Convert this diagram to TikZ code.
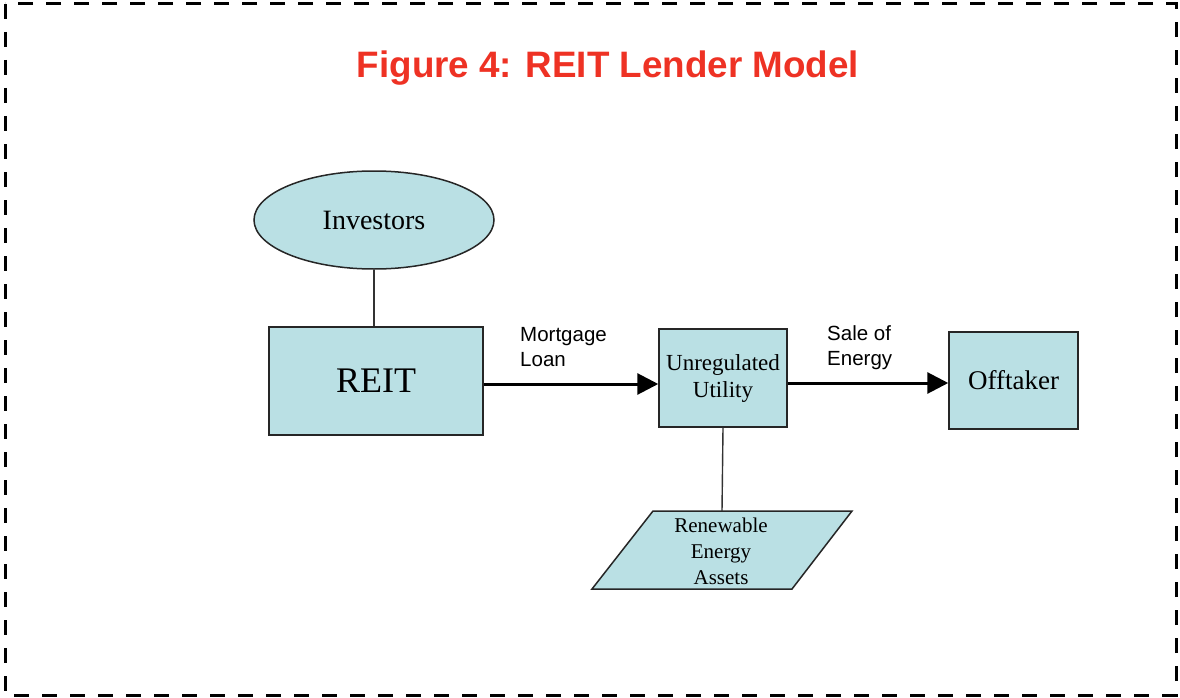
\documentclass[tikz,border=0pt]{standalone}
\usepackage{fontspec}
\setmainfont{Liberation Serif}
\newfontfamily\arialf{Liberation Sans}
\usetikzlibrary{arrows.meta,shapes.geometric}
\definecolor{boxfill}{RGB}{186,224,228}
\definecolor{titlered}{RGB}{238,50,36}
\tikzset{
  shapebox/.style={draw=black!85, line width=1.5pt, fill=boxfill, inner sep=0pt, align=center},
  flowarrow/.style={line width=3pt, -{Triangle[length=21pt,width=21pt]}},
  linkline/.style={line width=1.4pt, draw=black!80},
  lbl/.style={font=\arialf\fontsize{20.5}{25}\selectfont, align=left, anchor=north west, inner sep=0pt},
}
\begin{document}
\begin{tikzpicture}[x=1pt,y=-1pt]
\useasboundingbox (0,0) rectangle (1180,698);
\draw[line width=3pt, dash pattern=on 15pt off 13pt] (5,4) rectangle (1176,695);
\node[font=\arialf\bfseries\fontsize{36.8}{40}\selectfont, text=titlered] (title) at (608,68) {Figure 4: REIT Lender Model};

\node[shapebox, ellipse, minimum width=240pt, minimum height=98pt, font=\fontsize{28}{32}\selectfont] (inv) at (374,220) {Investors};
\node[shapebox, minimum width=214pt, minimum height=108pt, font=\fontsize{36}{40}\selectfont] (reit) at (376,381) {REIT};
\node[shapebox, minimum width=128pt, minimum height=98pt, font=\fontsize{23}{27}\selectfont] (uu) at (723,378) {Unregulated\\Utility};
\node[shapebox, minimum width=129pt, minimum height=97pt, font=\fontsize{27}{30}\selectfont] (off) at (1013.5,380.5) {Offtaker};

\draw[shapebox] (653,511) -- (852,511) -- (792,589) -- (592,589) -- cycle;
\coordinate (reatop) at (722,511);
\node[font=\fontsize{21}{26}\selectfont, align=center] (rea) at (721,551) {Renewable\\Energy\\Assets};

\draw[linkline] (inv.south) -- (inv.south |- reit.north);
\draw[linkline] (uu.south) -- (reatop);

\draw[flowarrow] (reit.east |- 0,384) -- (uu.west |- 0,384);
\draw[flowarrow] (uu.east |- 0,383) -- (off.west |- 0,383);

\node[lbl] (ml) at (520,327) {Mortgage\\Loan};
\node[lbl] (se) at (827,325) {Sale of\\Energy};
\end{tikzpicture}
\end{document}
